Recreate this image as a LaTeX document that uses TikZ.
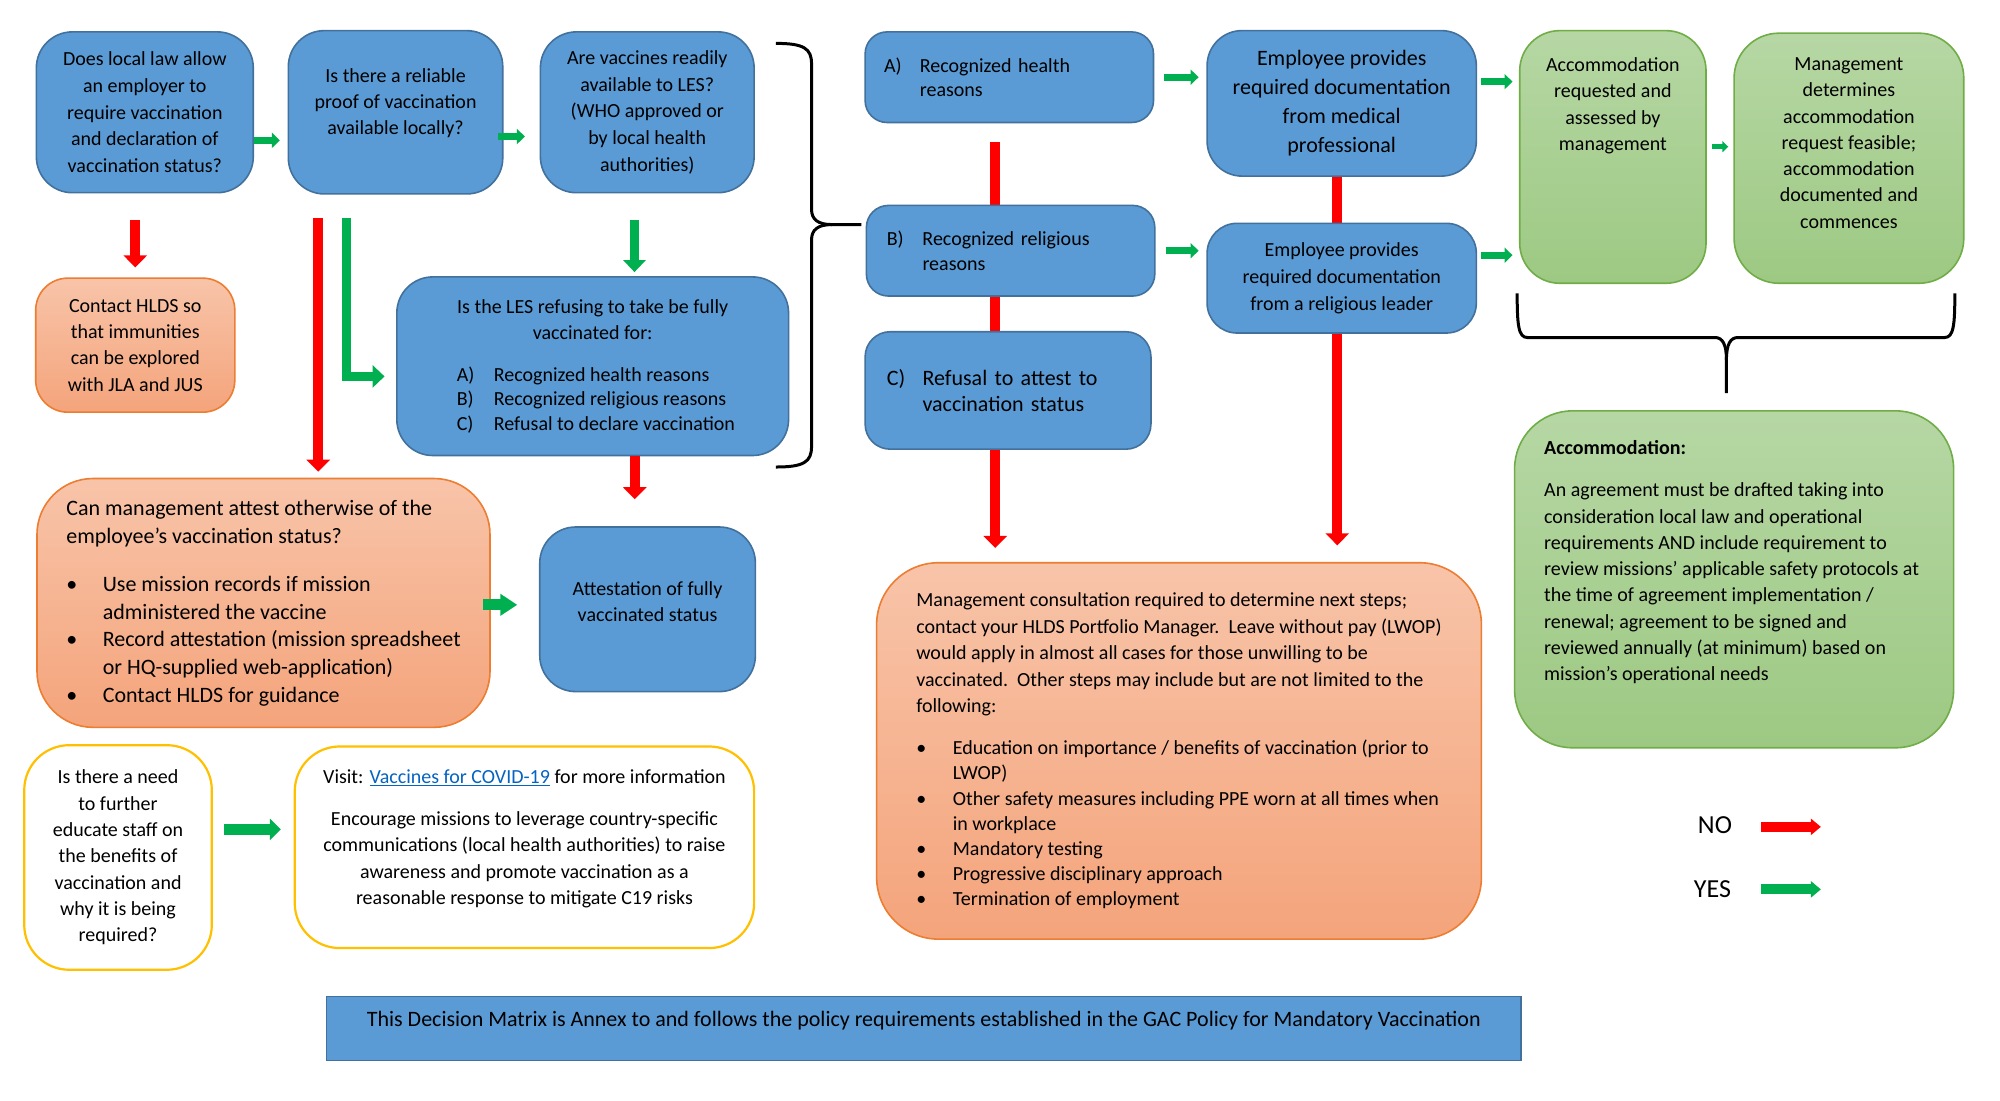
\documentclass[tikz,border=0pt]{standalone}
\usepackage{fontspec}
\setmainfont{Carlito}
\usetikzlibrary{arrows.meta,calc,backgrounds}

\definecolor{bluefill}{HTML}{5B9BD5}
\definecolor{blueline}{HTML}{41719C}
\definecolor{orangetop}{HTML}{F8C4A9}
\definecolor{orangebot}{HTML}{F4A47B}
\definecolor{orangeline}{HTML}{ED7D31}
\definecolor{greentop}{HTML}{B6D7A4}
\definecolor{greenbot}{HTML}{9DC983}
\definecolor{greenline}{HTML}{70AD47}
\definecolor{yellowline}{HTML}{FFC000}
\definecolor{nored}{HTML}{FF0000}
\definecolor{yesgreen}{HTML}{00B050}
\definecolor{linkblue}{HTML}{0563C1}

\newcommand{\bul}{\makebox[36.5pt][l]{\textbullet}}
\newcommand{\ind}{\hspace*{36.5pt}}
\newcommand{\abc}[1]{\makebox[35.7pt][l]{#1}}
\newcommand{\lesline}[2]{\makebox[271.8pt][l]{\makebox[37pt][l]{#1}#2}}

\tikzset{
  box/.style={rounded corners=#1, line width=1.6pt, inner sep=0pt, align=center,
    font=\fontsize{20}{26.3}\selectfont},
  box/.default=36pt,
  bluebox/.style={box=#1, draw=blueline, fill=bluefill},
  bluebox/.default=36pt,
  orangebox/.style={box=#1, draw=orangeline, top color=orangetop, bottom color=orangebot},
  orangebox/.default=36pt,
  greenbox/.style={box=#1, draw=greenline, top color=greentop, bottom color=greenbot},
  greenbox/.default=40pt,
  yellowbox/.style={box=#1, draw=yellowline, line width=2.2pt, fill=white},
  yellowbox/.default=45pt,
  sized/.style 2 args={minimum width=#1pt, minimum height=#2pt},
  txt/.style={inner sep=0pt, align=center, font=\fontsize{20}{26.3}\selectfont},
  noarr/.style={draw=nored, line width=10pt, -{Triangle[width=23pt,length=12pt]}},
  yessmall/.style={draw=yesgreen, line width=6.7pt, -{Triangle[width=15pt,length=8pt]}},
  yestiny/.style={draw=yesgreen, line width=5pt, -{Triangle[width=11pt,length=6pt]}},
  yesbig/.style={draw=yesgreen, line width=9.5pt, -{Triangle[width=22pt,length=12pt]}},
  yesfat/.style={draw=yesgreen, line width=11pt, -{Triangle[width=21pt,length=#1]}},
  legarr/.style={draw=#1, line width=10pt, -{Triangle[width=16pt,length=10pt]}},
  brace/.style={draw=black, line width=3pt},
}

\begin{document}
\begin{tikzpicture}[x=1.276pt, y=-1.276pt]
\useasboundingbox (0,0) rectangle (1567.4,862.1);

% first column of questions
\node[bluebox, sized={216.9}{160.8}, font=\fontsize{20}{26.6}\selectfont] (law) at (113.5,88)
  {Does local law allow\\an employer to\\require vaccination\\and declaration of\\vaccination status?};
\node[bluebox, sized={214.4}{163.3}] (proof) at (310,88) {};
\node[txt] (proof-t) at (310,81) {Is there a reliable\\proof of vaccination\\available locally?};
\node[bluebox, sized={213.7}{160.8}, font=\fontsize{20}{26.6}\selectfont] (avail) at (507.25,88)
  {Are vaccines readily\\available to LES?\\(WHO approved or\\by local health\\authorities)};
\node[orangebox=32pt, sized={199.1}{134}] (hlds) at (106,270.5)
  {Contact HLDS so\\that immunities\\can be explored\\with JLA and JUS};
\node[bluebox, sized={391.7}{178.6}, font=\fontsize{20}{24.4}\selectfont] (les) at (464.5,287)
  {Is the LES refusing to take be fully\\[2pt]vaccinated for:\\[17pt]
   \lesline{A)}{Recognized health reasons}\\
   \lesline{B)}{Recognized religious reasons}\\
   \lesline{C)}{Refusal to declare vaccination}};
\node[orangebox=56pt, sized={453}{248.8}, align=left, font=\fontsize{22}{27.6}\selectfont] (can) at (206.5,472.5)
  {Can management attest otherwise of the\\[0.6pt]
   employee’s vaccination status?\\[20.5pt]
   \bul Use mission records if mission\\
   \ind administered the vaccine\\
   \bul Record attestation (mission spreadsheet\\
   \ind or HQ-supplied web-application)\\
   \bul Contact HLDS for guidance};
\node[bluebox, sized={215.6}{164.6}] (attest) at (507.5,477.5) {};
\node[txt] (attest-t) at (507.5,471.5) {Attestation of fully\\vaccinated status};

% education boxes
\node[yellowbox, sized={187.6}{224.6}] (need) at (92.5,672)
  {Is there a need\\to further\\educate staff on\\the benefits of\\vaccination and\\why it is being\\required?};
\node[yellowbox, sized={459.4}{201.6}] (visit) at (411,664) {};
\node[txt] (visit-t) at (411,657.5)
  {Visit: \textcolor{linkblue}{\underline{Vaccines for COVID-19}} for more information\\[15.5pt]
   Encourage missions to leverage country-specific\\communications (local health authorities) to raise\\
   awareness and promote vaccination as a\\reasonable response to mitigate C19 risks};
\node[draw=blueline, fill=bluefill, line width=1.6pt, minimum width=1194.3pt, minimum height=63.8pt,
  inner sep=0pt, text height=15pt, text depth=19pt, font=\fontsize{22}{26.3}\selectfont] (banner) at (724,806)
  {This Decision Matrix is Annex to and follows the policy requirements established in the GAC Policy for Mandatory Vaccination};

% reasons
\node[bluebox=22pt, sized={288.4}{90.6}, align=left, text width=250.4pt, inner xsep=19pt,
  font=\fontsize{20}{24.3}\selectfont] (hA) at (791,60.5) {\abc{A)}Recognized health\\\abc{}reasons};
\node[bluebox=22pt, sized={288.4}{90.6}, align=left, text width=247.6pt, inner xsep=20.4pt,
  font=\fontsize{20}{24.3}\selectfont] (hB) at (792,196.5) {\abc{B)}Recognized religious\\\abc{}reasons};
\node[bluebox=25pt, sized={285.8}{117.4}, align=left, text width=242.4pt, inner xsep=21.7pt,
  font=\fontsize{22}{26.8}\selectfont] (hC) at (790,306) {\abc{C)}Refusal to attest to\\\abc{}vaccination status};
\node[bluebox=35pt, sized={269.2}{145.5}, font=\fontsize{22}{29}\selectfont] (emp1) at (1051.5,81)
  {Employee provides\\required documentation\\from medical\\professional};
\node[bluebox=30pt, sized={269.2}{109.7}, font=\fontsize{20}{26.8}\selectfont] (emp2) at (1051.5,218)
  {Employee provides\\required documentation\\from a religious leader};
\node[orangebox=62pt, sized={604.8}{376.4}, align=left, font=\fontsize{20}{25.2}\selectfont] (mgmt) at (924,588.5)
  {Management consultation required to determine next steps;\\[1.3pt]
   contact your HLDS Portfolio Manager.\ \ Leave without pay (LWOP)\\[1.3pt]
   would apply in almost all cases for those unwilling to be\\[1.3pt]
   vaccinated.\ \ Other steps may include but are not limited to the\\[1.3pt]
   following:\\[17pt]
   \bul Education on importance / benefits of vaccination (prior to\\
   \ind LWOP)\\
   \bul Other safety measures including PPE worn at all times when\\
   \ind in workplace\\
   \bul Mandatory testing\\
   \bul Progressive disciplinary approach\\
   \bul Termination of employment};

% accommodation
\node[greenbox, sized={186.3}{252.6}] (acc1) at (1264,123) {};
\node[txt, anchor=north] (acc1-t) at (1264,45) {Accommodation\\requested and\\assessed by\\management};
\node[greenbox=45pt, sized={229.7}{250.1}] (acc2) at (1449,124) {};
\node[txt, anchor=north] (acc2-t) at (1449,45)
  {Management\\determines\\accommodation\\request feasible;\\accommodation\\documented and\\commences};
\node[greenbox=58pt, sized={439}{336.9}] (accom) at (1359,454) {};
\node[txt, anchor=north west, align=left] (accom-t) at (1210,345)
  {\textbf{Accommodation:}\\[16pt]
   An agreement must be drafted taking into\\
   consideration local law and operational\\
   requirements AND include requirement to\\
   review missions’ applicable safety protocols at\\
   the time of agreement implementation /\\
   renewal; agreement to be signed and\\
   reviewed annually (at minimum) based on\\
   mission’s operational needs};

% legend
\node[inner sep=0pt, font=\fontsize{26}{30}\selectfont] (no) at (1344,647) {NO};
\node[inner sep=0pt, font=\fontsize{26}{30}\selectfont] (yes) at (1342,697) {YES};
\coordinate (no-a) at (1380,648);
\coordinate (no-b) at (1427,648);
\coordinate (yes-a) at (1380,697);
\coordinate (yes-b) at (1427,697);
\draw[legarr=nored] (no-a) -- (no-b);
\draw[legarr=yesgreen] (yes-a) -- (yes-b);

% braces
\draw[brace] (608,34) .. controls (630,34) and (636,38) .. (636,50) -- (636,164)
  .. controls (636,172) and (641,176) .. (652,176) -- (675,176);
\draw[brace] (608,366) .. controls (630,366) and (636,362) .. (636,350) -- (636,188)
  .. controls (636,180) and (641,176) .. (652,176);
\draw[brace] (1189,230) .. controls (1189,255) and (1190,264.5) .. (1197,264.5) -- (1344,264.5)
  .. controls (1350,264.5) and (1353,270) .. (1353,282) -- (1353,308);
\draw[brace] (1532,230) .. controls (1532,255) and (1531,264.5) .. (1524,264.5) -- (1362,264.5)
  .. controls (1356,264.5) and (1353,270) .. (1353,282);

% connectors
\coordinate (redtop) at ($(proof.south west)+(24,0)$);
\coordinate (gtop) at ($(proof.south west)+(46,0)$);
\coordinate (gav) at ($(avail.south)+(-10,0)$);
\coordinate (rla) at ($(attest.north)+(-10,0)$);
\coordinate (gca) at ($(can.east)+(-6,1.5)$);
\coordinate (gnv) at ($(need.east)+(9,-22)$);
\coordinate (ge1) at ($(emp1.east)+(3,-17)$);
\coordinate (ge2) at ($(emp2.east)+(3,-18)$);
\coordinate (ga) at ($(acc1.east)+(4,-8)$);

\draw[noarr, shorten <=27pt, shorten >=10pt] (law.south -| hlds.north) -- (hlds.north);
\draw[noarr, shorten <=23pt, shorten >=6pt] (redtop) -- (redtop |- can.north);
\draw[yesbig, shorten <=23pt, shorten >=11.5pt] (gtop) |- ($(les.west)+(0,8)$);
\draw[yessmall, shorten >=7.7pt] ($(law.east)+(0,22)$) -- ($(proof.west)+(0,22)$);
\draw[yessmall, shorten >=14.7pt] ($(proof.east)+(-4,19)$) -- ($(avail.west)+(0,19)$);
\draw[yesbig, shorten <=27pt, shorten >=4pt] (gav) -- (gav |- les.north);
\draw[noarr, shorten >=27pt] (rla |- les.south) -- (rla);
\draw[yesfat=17pt, shorten >=21.7pt] (gca) -- (gca -| attest.west);
\draw[yesfat=11pt, shorten >=12.8pt] (gnv) -- (gnv -| visit.west);
\draw[yessmall, shorten <=10pt, shorten >=7.7pt] (hA.east) -- (hA.east -| emp1.west);
\draw[yessmall, shorten <=10pt, shorten >=7.7pt] (hB.east) -- (hB.east -| emp2.west);
\draw[yessmall, shorten >=6.4pt] (ge1) -- (ge1 -| acc1.west);
\draw[yessmall, shorten >=6.4pt] (ge2) -- (ge2 -| acc1.west);
\draw[yestiny, shorten >=5pt] (ga) -- (ga -| acc2.west);

\begin{pgfonlayer}{background}
  \fill[white] (0,0) rectangle (1567.4,862.1);
  \coordinate (rmid) at ($(hA.south)+(-11,15)$);
  \coordinate (remp) at ($(emp1.south)+(-3.5,0)$);
  \draw[noarr, shorten >=14pt] (rmid) -- (rmid |- mgmt.north);
  \draw[noarr, shorten >=16.6pt] (remp) -- (remp |- mgmt.north);
\end{pgfonlayer}

\end{tikzpicture}
\end{document}
